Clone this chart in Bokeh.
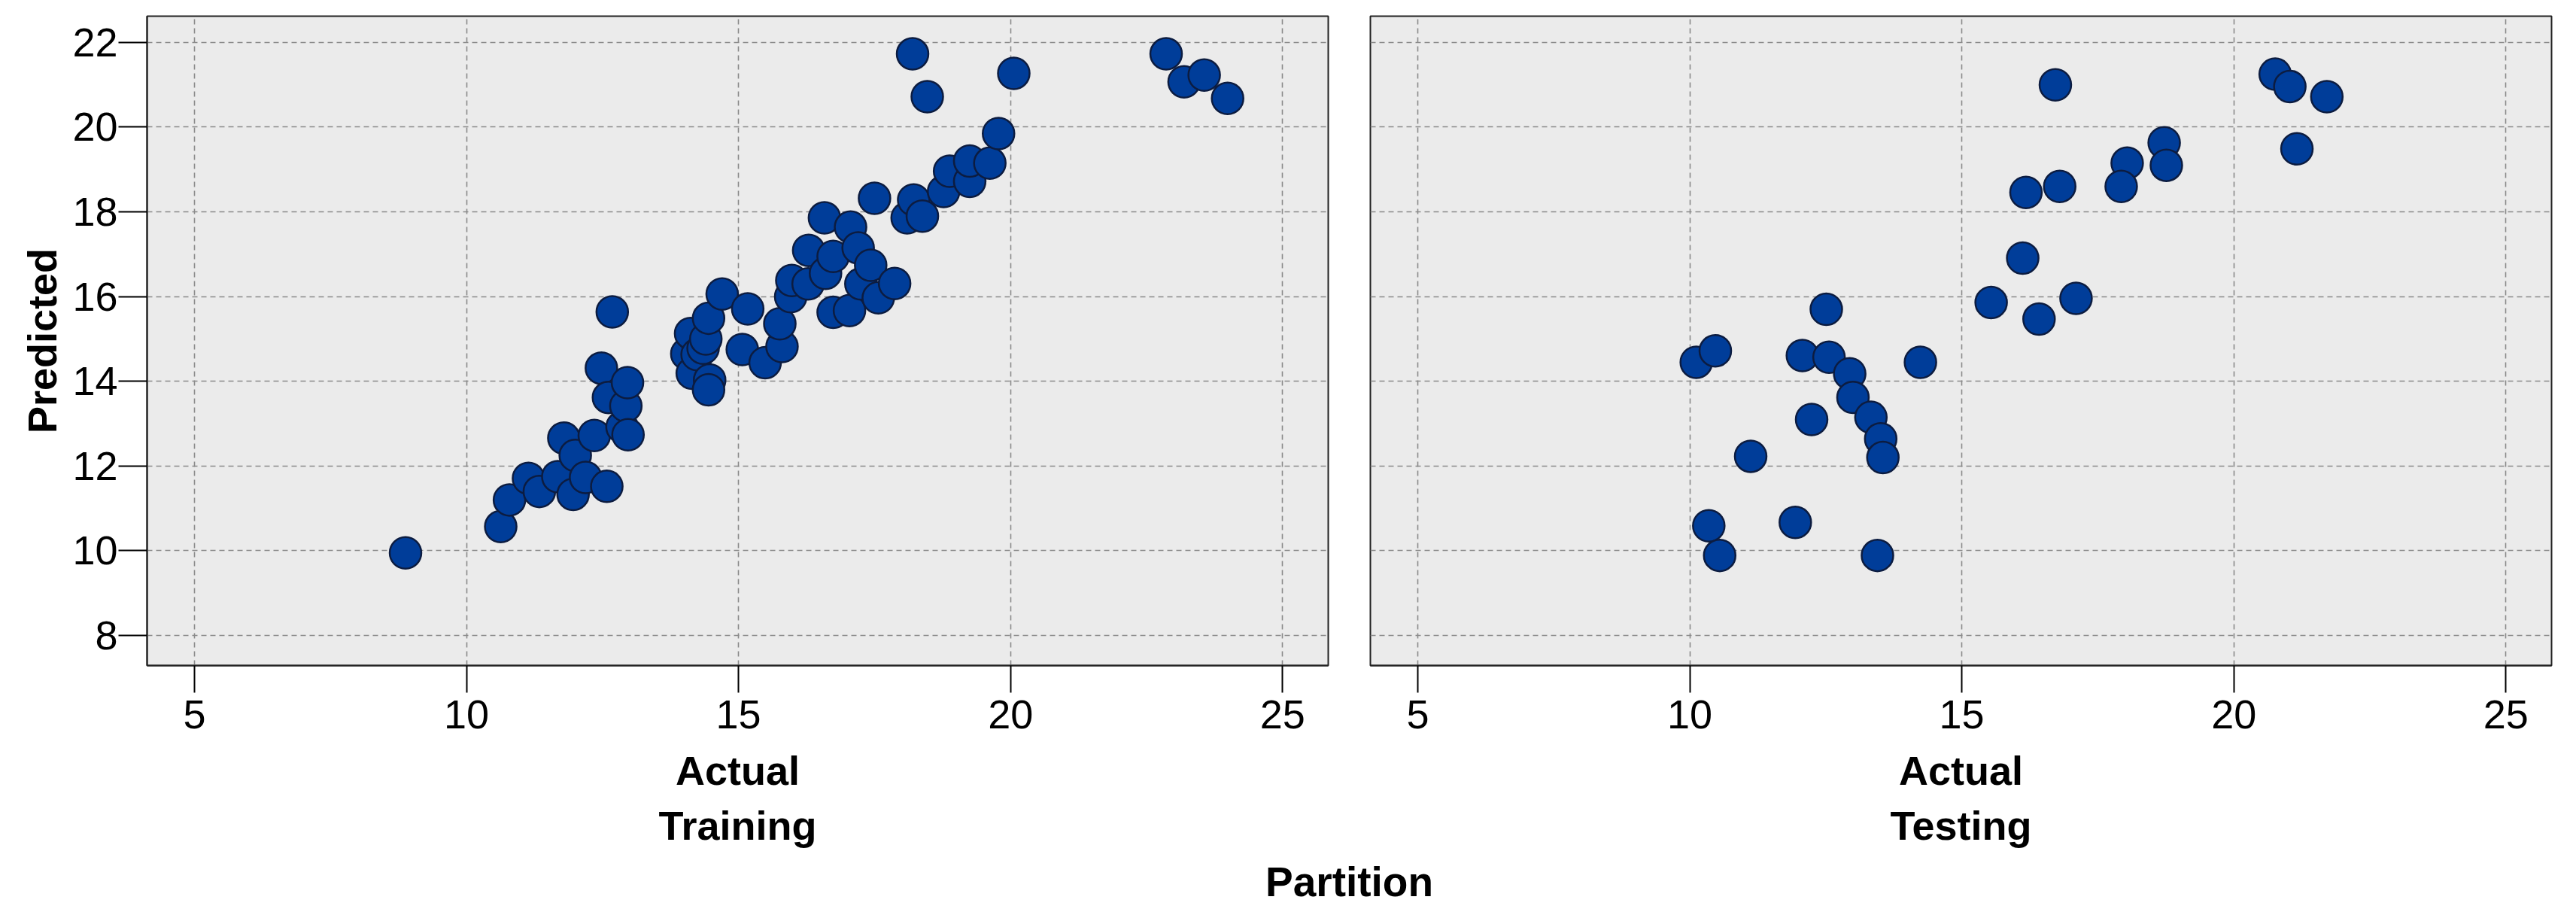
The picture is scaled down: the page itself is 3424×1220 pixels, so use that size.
from bokeh.plotting import figure
from bokeh.layouts import column, row
from bokeh.models import Range1d, FixedTicker, Title
from bokeh.embed import file_html
from bokeh.resources import INLINE
from bokeh.core.properties import value

# ---------------- data ----------------
train_actual = [8.88, 10.63, 10.79, 11.14, 11.34, 11.68, 11.79, 11.96, 12.00, 12.19,
                12.35, 12.48, 12.58, 12.61, 12.68, 12.86, 12.93, 12.97, 12.96, 14.05,
                14.12, 14.15, 14.24, 14.35, 14.40, 14.45, 14.47, 14.45, 14.70, 15.07,
                15.17, 15.49, 15.80, 15.76, 15.96, 15.98, 16.28, 16.29, 16.58, 16.60,
                16.74, 16.74, 17.04, 17.06, 17.20, 17.25, 17.43, 17.57, 17.50, 17.87,
                18.10, 18.22, 18.38, 18.77, 18.88, 19.25, 19.25, 19.62, 19.78, 18.20,
                18.47, 20.06, 22.86, 23.19, 23.56, 23.99]
train_pred = [9.95, 10.57, 11.20, 11.71, 11.40, 11.75, 12.66, 11.33, 12.25, 11.73,
              12.72, 14.31, 11.52, 13.62, 15.64, 12.92, 13.42, 12.74, 13.97, 14.65,
              15.13, 14.19, 14.63, 14.78, 15.00, 15.49, 14.03, 13.80, 16.06, 14.75,
              15.71, 14.44, 14.82, 15.36, 16.00, 16.38, 16.30, 17.09, 17.86, 16.55,
              16.95, 15.63, 15.67, 17.64, 17.15, 16.30, 16.74, 15.97, 18.32, 16.31,
              17.86, 18.28, 17.90, 18.48, 18.96, 18.72, 19.20, 19.15, 19.85, 21.73,
              20.72, 21.27, 21.73, 21.07, 21.23, 20.68]

test_actual = [20.76, 21.03, 21.71, 21.16, 16.72, 18.72, 18.76, 18.04, 17.93, 16.80,
               16.18, 16.12, 15.54, 16.42, 17.10, 12.51, 10.12, 10.47, 12.07, 12.56,
               12.94, 13.00, 14.24, 12.24, 13.33, 13.51, 13.55, 11.12, 10.35, 11.94,
               10.55, 13.45]
test_pred = [21.25, 20.96, 20.72, 19.49, 21.00, 19.63, 19.10, 19.15, 18.60, 18.60,
             18.46, 16.91, 15.86, 15.47, 15.96, 15.70, 14.45, 14.72, 14.61, 14.57,
             14.18, 13.62, 14.45, 13.10, 13.15, 12.64, 12.20, 12.23, 10.59, 10.67,
             9.89, 9.89]

x_ticks = [5, 10, 15, 20, 25]
y_ticks = [8, 10, 12, 14, 16, 18, 20, 22]
panel_names = ["Training", "Testing"]
x_label = "Actual"
y_label = "Predicted"
group_label = "Partition"

FONT = "Liberation Sans"
FILL = "#003d99"
EDGE = "#0c1c40"

X0, X1 = 4.13, 25.84
Y0, Y1 = 7.29, 22.62
FRAME_W, FRAME_H = 1570, 863
TOP = 21
BOTTOM = 325
ML1, MR1, ML2, MR2 = 195, 28, 28, 25


def make_panel(xs, ys, name, show_y, ml, mr):
    p = figure(frame_width=FRAME_W, frame_height=FRAME_H, title=None,
               x_range=Range1d(X0, X1), y_range=Range1d(Y0, Y1),
               output_backend="svg", toolbar_location=None,
               min_border_left=ml, min_border_right=mr,
               min_border_top=TOP, min_border_bottom=BOTTOM)
    p.background_fill_color = "#ebebeb"
    p.border_fill_color = "white"
    p.outline_line_color = "#222222"
    p.outline_line_width = 2

    for g in (p.xgrid, p.ygrid):
        g.grid_line_color = "#8a8a8a"
        g.grid_line_width = 1.6
        g.grid_line_dash = "7 5"
    p.xgrid.ticker = FixedTicker(ticks=x_ticks)
    p.ygrid.ticker = FixedTicker(ticks=y_ticks)

    xa = p.xaxis[0]
    xa.ticker = FixedTicker(ticks=x_ticks)
    xa.axis_label = x_label
    xa.axis_label_text_font = FONT
    xa.axis_label_text_font_size = "54px"
    xa.axis_label_text_font_style = "bold"
    xa.axis_label_text_color = "black"
    xa.axis_label_standoff = 23
    xa.major_label_text_font = FONT
    xa.major_label_text_font_size = "54px"
    xa.major_label_text_color = "black"
    xa.major_label_standoff = 10
    xa.major_tick_out = 36
    xa.major_tick_in = 0
    xa.major_tick_line_color = "black"
    xa.major_tick_line_width = 2
    xa.minor_tick_line_color = None
    xa.axis_line_color = "#222222"
    xa.axis_line_width = 2

    ya = p.yaxis[0]
    ya.ticker = FixedTicker(ticks=y_ticks)
    if show_y:
        ya.axis_label = y_label
        ya.axis_label_text_font = FONT
        ya.axis_label_text_font_size = "54px"
        ya.axis_label_text_font_style = "bold"
        ya.axis_label_text_color = "black"
        ya.axis_label_standoff = 7
        ya.major_label_text_font = FONT
        ya.major_label_text_font_size = "54px"
        ya.major_label_text_color = "black"
        ya.major_label_standoff = 1
        ya.major_tick_out = 38
        ya.major_tick_in = 0
        ya.major_tick_line_color = "black"
        ya.major_tick_line_width = 2
        ya.minor_tick_line_color = None
        ya.axis_line_color = "#222222"
        ya.axis_line_width = 2
    else:
        ya.visible = False

    # facet name under the x-axis title
    p.add_layout(Title(text=name, align="center", text_font=FONT,
                       text_font_size="54px", text_font_style="bold",
                       text_color="black", standoff=17), "below")

    p.scatter(xs, ys, size=42, fill_color=FILL, line_color=EDGE,
              line_width=2.5, marker="circle")
    return p


p1 = make_panel(train_actual, train_pred, panel_names[0], True, ML1, MR1)
p2 = make_panel(test_actual, test_pred, panel_names[1], False, ML2, MR2)

# ---- transparent strip overlapping the bottom margin: group title ----
ROW_H = TOP + FRAME_H + BOTTOM
STRIP_W = ML1 + FRAME_W + MR1 + ML2 + FRAME_W + MR2
STRIP_TOP = 1100
STRIP_H = 116
GROUP_BASELINE = 71  # px from strip top (glyph is drawn ~21px lower than this)
mid_c = (ML1 + FRAME_W + MR1 + ML2 + ML1 + FRAME_W) / 2  # middle of the gap between frames

pf = figure(frame_width=STRIP_W, frame_height=STRIP_H, title=None,
            x_range=Range1d(0, STRIP_W), y_range=Range1d(STRIP_H, 0),
            x_axis_type=None, y_axis_type=None,
            output_backend="svg", toolbar_location=None, min_border=0,
            margin=(STRIP_TOP - ROW_H, 0, 0, 0))
pf.outline_line_color = None
pf.grid.visible = False
pf.background_fill_color = None
pf.border_fill_color = None

pf.text(x=[mid_c], y=[GROUP_BASELINE], text=[group_label],
        text_align="center", text_baseline="alphabetic", text_font=value(FONT),
        text_font_size="55px", text_font_style="bold", text_color="black")

layout = column(row(p1, p2), pf)
open("out.html", "w").write(file_html(layout, INLINE))
